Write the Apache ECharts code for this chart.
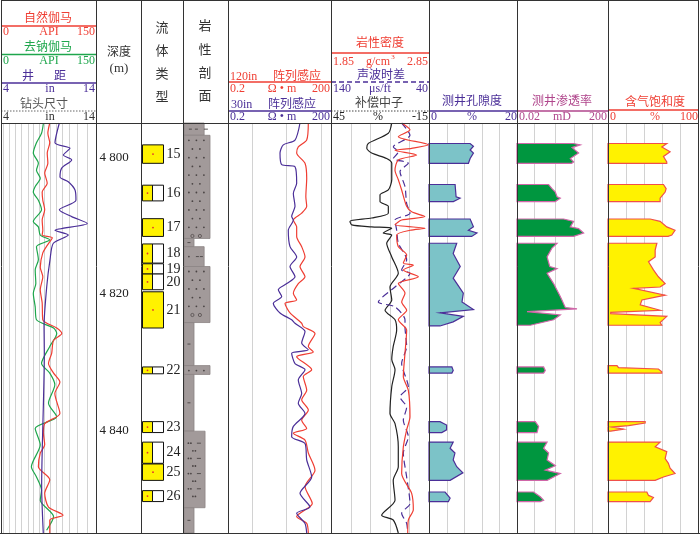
<!DOCTYPE html>
<html><head><meta charset="utf-8">
<script src="https://cdn.jsdelivr.net/npm/echarts@6/dist/echarts.min.js"></script>
<style>html,body{margin:0;padding:0;background:#fff}#c{width:700px;height:538px}</style>
</head><body><div id="c"></div>
<script>
// ---------------- DATA ----------------
const depthMin = 4795, depthMax = 4855;
const depthLabels = [4800, 4820, 4840];

// [value, depth]
const grNatural = [[77,4795.0],[74,4796.5],[77,4797.9],[73,4799.4],[74,4800.9],[69,4802.3],[73,4803.8],[65,4805.1],[66,4806.3],[69,4807.7],[65,4809.2],[66,4810.7],[65,4811.4],[81,4811.8],[73,4812.9],[66,4814.0],[62,4816.1],[66,4817.5],[62,4819.4],[65,4821.3],[66,4823.8],[88,4825.0],[96,4825.8],[83,4826.8],[80,4828.7],[75,4830.2],[83,4831.6],[93,4832.9],[85,4834.6],[93,4837.5],[69,4839.0],[67,4840.4],[69,4842.1],[62,4843.3],[59,4845.3],[77,4847.2],[69,4849.2],[75,4851.2],[98,4852.4],[77,4853.1],[77,4855.0]];
const grNoNa = [[67,4795.0],[64,4796.5],[56,4797.9],[51,4799.4],[59,4800.9],[56,4801.9],[62,4803.1],[54,4804.3],[51,4805.1],[59,4806.3],[64,4807.7],[51,4809.4],[59,4810.2],[62,4811.4],[77,4812.1],[56,4813.1],[59,4815.0],[54,4816.5],[55,4818.5],[51,4819.9],[54,4821.9],[56,4823.8],[83,4825.0],[88,4825.8],[77,4827.7],[64,4830.2],[77,4831.6],[85,4833.3],[75,4836.0],[88,4838.0],[54,4839.7],[62,4842.1],[48,4845.3],[56,4846.8],[64,4848.7],[62,4850.2],[83,4852.6],[72,4854.6]];
const caliper = [[10.14,4795.0],[9.68,4797.9],[11.26,4798.7],[10.56,4799.7],[11.44,4800.4],[10.39,4801.6],[10.21,4802.9],[11.08,4803.6],[11.79,4804.8],[11.89,4806.3],[10.14,4807.7],[11.44,4808.7],[13.08,4809.7],[9.68,4810.7],[11.08,4811.4],[9.51,4812.6],[9.16,4815.0],[8.81,4819.0],[8.53,4824.8],[8.56,4828.7],[8.28,4848.2],[8.45,4855.0]];

const res120 = [[43.7,4795.0],[39.2,4797.5],[22.3,4798.5],[20.0,4799.4],[35.0,4800.9],[39.2,4803.1],[37,4805.8],[39.2,4807.2],[28.0,4808.2],[16.0,4809.2],[20.0,4810.2],[20.0,4811.6],[28.0,4813.1],[35.0,4814.6],[25.0,4816.0],[35.0,4817.5],[22.3,4818.5],[16.0,4819.9],[20.0,4820.9],[9.14,4821.4],[12.8,4822.8],[28.0,4824.3],[31.2,4824.8],[68.4,4825.8],[43.7,4827.7],[61.0,4828.5],[20.0,4829.2],[54.8,4831.1],[31.2,4832.1],[39.2,4834.1],[28.0,4835.5],[43.7,4837.0],[28.0,4838.5],[39.2,4839.7],[16.0,4840.4],[35.0,4841.4],[43.7,4843.3],[68.4,4845.8],[35.0,4848.2],[57.0,4850.7],[20.0,4852.6],[39.2,4853.6],[43.7,4855.0]];
const res30 = [[25.0,4795.0],[17.9,4797.5],[8.16,4798.2],[6.54,4799.4],[7.33,4801.1],[17.9,4801.4],[20.0,4803.8],[16.0,4805.3],[17.9,4807.2],[14.3,4808.7],[16.0,4809.2],[11.4,4810.7],[12.8,4813.1],[20.0,4814.6],[12.8,4816.0],[17.9,4817.5],[10.3,4818.5],[5.83,4819.4],[7.33,4820.4],[4.17,4821.4],[6.54,4822.8],[14.3,4823.8],[17.9,4824.3],[35.0,4825.5],[28.0,4827.2],[43.7,4828.2],[14.3,4828.7],[17.9,4830.2],[35.0,4831.1],[22.3,4832.6],[28.0,4834.6],[22.3,4836.0],[35.0,4837.5],[16.0,4839.4],[14.3,4840.9],[35.0,4841.9],[39.2,4844.3],[54.8,4846.8],[25.0,4849.2],[48.9,4851.2],[20.0,4852.1],[35.0,4853.6],[39.2,4855.0]];

const density = [[2.571,4795.0],[2.656,4796.0],[2.537,4797.0],[2.843,4798.2],[2.673,4798.7],[2.503,4799.0],[2.724,4799.7],[2.537,4800.4],[2.503,4801.9],[2.537,4803.3],[2.571,4804.8],[2.622,4807.2],[2.673,4808.0],[2.809,4808.7],[2.571,4809.2],[2.503,4809.9],[2.809,4810.4],[2.656,4810.7],[2.520,4811.4],[2.537,4813.1],[2.622,4814.3],[2.588,4815.5],[2.690,4815.8],[2.588,4816.5],[2.741,4817.5],[2.537,4818.5],[2.605,4819.9],[2.571,4821.2],[2.622,4822.4],[2.537,4823.8],[2.622,4825.3],[2.605,4828.7],[2.588,4832.1],[2.639,4834.1],[2.656,4838.0],[2.622,4839.9],[2.588,4842.4],[2.571,4846.3],[2.673,4849.2],[2.690,4851.6],[2.639,4853.1],[2.633,4855.0]];
const sonic = [[67.9,4795.0],[59.4,4796.8],[76.4,4798.5],[71.3,4799.2],[76.4,4800.2],[61.1,4800.9],[69.6,4802.1],[64.5,4804.3],[62.8,4806.8],[59.4,4808.2],[74.7,4809.2],[73.0,4810.7],[71.3,4812.6],[62.8,4815.0],[67.9,4816.5],[59.4,4817.0],[74.7,4819.0],[91.7,4821.2],[74.7,4821.9],[64.5,4823.8],[64.5,4824.8],[62.8,4827.7],[67.9,4830.2],[61.1,4833.6],[69.6,4835.1],[62.8,4836.6],[66.2,4838.5],[61.1,4840.9],[66.2,4843.3],[62.8,4846.8],[59.4,4850.7],[67.9,4852.1],[62.8,4853.6],[61.7,4855.0]];
const neutron = [[7.8,4795.0],[9.9,4796.5],[22.2,4798.0],[23.1,4798.7],[20.1,4799.4],[10.9,4800.2],[7.8,4800.9],[7.8,4803.3],[9.9,4804.8],[15.0,4805.5],[15.0,4806.5],[9.9,4807.2],[9.9,4808.2],[20.1,4808.9],[33.4,4809.4],[32.3,4809.9],[20.1,4810.2],[7.8,4810.4],[13.0,4811.1],[7.8,4811.4],[10.9,4812.6],[7.8,4814.6],[3.8,4817.0],[8.9,4819.0],[7.8,4820.9],[11.9,4822.4],[5.8,4823.8],[4.8,4825.3],[6.9,4827.7],[7.8,4829.6],[5.8,4831.1],[7.8,4833.6],[8.9,4837.5],[5.8,4839.0],[3.8,4842.4],[3.8,4845.3],[6.9,4847.3],[5.8,4850.2],[14.0,4852.4],[6.9,4853.1],[3.8,4855.0]];

// interpreted zones: list of [value, depth] outlines
const porosityZones = [
  [[9.35,4798.0],[10.1,4798.4],[9.35,4798.95],[10.1,4799.4],[9.35,4800.2],[8.96,4800.9]],
  [[5.93,4804.0],[6.16,4805.8],[7.07,4806.0],[5.54,4806.5]],
  [[9.35,4809.05],[10.1,4810.2],[8.96,4810.7],[10.9,4811.1],[9.7,4811.6]],
  [[6.3,4812.6],[5.5,4814.1],[7.1,4816.0],[5.5,4817.7],[7.8,4819.9],[7.5,4821.2],[10.1,4822.3],[2.5,4822.8],[7.8,4823.3],[5.5,4824.1],[2.5,4824.7]],
  [[5.2,4830.7],[5.5,4831.2],[5.2,4831.6]],
  [[2.5,4838.7],[4.0,4839.2],[4.0,4839.9],[2.9,4840.3]],
  [[5.5,4841.7],[4.8,4842.6],[5.9,4843.3],[5.5,4844.3],[6.3,4845.3],[7.7,4846.2],[4.8,4847.3]],
  [[3.65,4849.0],[4.8,4849.9],[4.4,4850.4]]
];
const permZones = [
  [[6,4798.0],[12.1,4798.2],[5.23,4798.6],[10.2,4799.4],[4.4,4800.2],[6.15,4800.7],[5,4800.9]],
  [[0.49,4804.0],[0.69,4804.6],[0.97,4805.1],[1.15,4805.8],[1.6,4806.0],[0.97,4806.5]],
  [[2.23,4809.05],[6.15,4809.4],[4.4,4810.2],[10.2,4810.45],[16.9,4811.1],[6.15,4811.6]],
  [[1.15,4812.6],[0.69,4813.3],[0.42,4814.6],[0.55,4816.0],[1.15,4816.3],[0.42,4817.0],[0.81,4818.5],[1.6,4820.4],[2.66,4822.0],[8.7,4822.2],[0.055,4822.6],[1.6,4823.1],[0.81,4823.8],[0.077,4824.6]],
  [[0.295,4830.7],[0.35,4831.2],[0.295,4831.6]],
  [[0.127,4838.7],[0.178,4839.4],[0.151,4840.3]],
  [[0.42,4841.7],[0.295,4842.6],[0.49,4843.3],[0.42,4844.3],[0.97,4845.15],[0.35,4845.8],[1.6,4846.3],[0.42,4847.3]],
  [[0.107,4849.0],[0.211,4849.7],[0.295,4850.2],[0.211,4850.4]]
];
const satZones = [
  [[65.3,4798.0],[59.8,4798.5],[69.0,4799.2],[61.6,4799.9],[65.3,4800.7],[65.3,4800.9]],
  [[61.6,4804.0],[64.6,4804.6],[63.5,4805.1],[57.9,4806.0],[57.9,4806.5]],
  [[46.8,4809.05],[57.9,4809.4],[65.3,4810.2],[74.5,4810.7],[70.9,4811.4],[66.7,4811.6]],
  [[54.3,4812.6],[52.4,4813.6],[52.4,4814.6],[45,4815.3],[50.5,4816.5],[56,4817.5],[63.5,4818.5],[57.9,4819.0],[28.4,4819.2],[63.5,4820.2],[37.7,4820.9],[35.8,4821.6],[57.9,4822.4],[3,4822.7],[3,4822.9],[65.3,4823.3],[57.9,4824.2],[59.8,4824.6]],
  [[10,4830.5],[11.7,4830.8],[56,4831.0],[59.8,4831.4],[59.8,4831.6]],
  [[41.3,4838.7],[41.3,4838.9],[22.8,4839.3],[4.4,4839.5],[17.3,4839.8],[3,4840.1]],
  [[57.9,4841.7],[52.4,4842.4],[65.3,4843.1],[63.5,4844.1],[67.1,4844.8],[69.0,4845.5],[74.5,4846.3],[61.6,4846.8],[52.4,4847.3]],
  [[43.2,4849.0],[45,4849.5],[50.5,4849.8],[46.8,4850.4]]
];

// fluid layers: [top, bottom, label, full(1)/half(0)]
const fluidLayers = [[4798.2,4800.9,'15',1],[4804.1,4806.4,'16',0],[4809.0,4811.6,'17',1],[4812.7,4815.5,'18',0],[4815.6,4817.1,'19',0],[4817.1,4819.4,'20',0],[4819.7,4825.0,'21',1],[4830.7,4831.7,'22',0],[4838.7,4840.3,'23',0],[4841.7,4844.8,'24',0],[4844.9,4847.3,'25',1],[4848.8,4850.4,'26',0]];
// lithology: [top, bottom, grain-size width (0-1), type]
const lithology = [[4795,4796.8,0.47,'mud'],[4796.8,4811.9,0.6,'sand'],[4811.9,4813.1,0.245,'mud1'],[4813.1,4816.0,0.47,'silt'],[4816.0,4824.2,0.6,'sand'],[4824.2,4830.5,0.245,'mud1'],[4830.5,4831.8,0.6,'sand1'],[4831.8,4840.1,0.245,'mud1'],[4840.1,4851.3,0.49,'silt2'],[4851.3,4855,0.245,'mud1']];

// grid tick values per track
const grTicks = [2.7,12.6,22.1,31.6,42.2,51.0,60.0,68.4,77.4,86.8,96.3,106.9,120.5,136.3];
const resTicks = [1,10,100];
const densTicks = [2.05,2.25,2.45,2.65];
const porTicks = [4,8,12,16];
const permTicks = [0.115,0.97,6.6,40.8];
const satTicks = [20,40,60,80];

// ---------------- CHART ----------------
const RED='#ef3e33', GREEN='#1ea64c', PURPLE='#4b2f98', DARK='#3a3a3a', PINK='#b0468c', GRIDC='#d2d2d2';
const FONT='"Liberation Serif","Noto Sans CJK SC",serif';
const TOP=123, BOT=533;
const cols=[[1,95],[96,45],[141,42],[183,45],[228,103],[331,98],[429,88],[517,91],[608,90]];
const grids=cols.map(c=>({left:c[0],top:TOP,width:c[1],height:BOT-TOP,outerBoundsMode:'none',containLabel:false}));
function xa(g,o){return Object.assign({gridIndex:g,type:'value',show:false,splitLine:{show:false}},o);}
const xAxes=[
  xa(0,{min:0,max:150}),          //0 GR
  xa(0,{min:4,max:14}),           //1 caliper
  xa(1,{min:0,max:1}),            //2 depth
  xa(2,{min:0,max:1}),            //3 fluid
  xa(3,{min:0,max:1}),            //4 litho
  xa(4,{type:'log',logBase:10,min:0.2,max:200}), //5 resistivity
  xa(5,{min:1.85,max:2.85}),      //6 density
  xa(5,{min:40,max:140,inverse:true}),  //7 sonic
  xa(5,{min:-15,max:45,inverse:true}),  //8 neutron
  xa(6,{min:0,max:20}),           //9 porosity
  xa(7,{type:'log',logBase:10,min:0.02,max:200}), //10 perm
  xa(8,{min:0,max:100})           //11 saturation
];
const yAxes=cols.map((c,i)=>({gridIndex:i,type:'value',inverse:true,min:depthMin,max:depthMax,show:false,splitLine:{show:false}}));

function gridSeries(xi,yi,ticks){
  return {type:'custom',xAxisIndex:xi,yAxisIndex:yi,silent:true,z:1,data:ticks.map(v=>[v,depthMin]),encode:{x:0,y:1},
    renderItem:(p,api)=>{const a=api.coord([api.value(0),depthMin]),b=api.coord([api.value(0),depthMax]);
      const x=Math.round(a[0])+0.5;
      return {type:'line',shape:{x1:x,y1:a[1],x2:x,y2:b[1]},style:{stroke:GRIDC,lineWidth:1}};}};
}
function lineSeries(xi,yi,data,color,dash,w){
  return {type:'line',xAxisIndex:xi,yAxisIndex:yi,data:data,symbol:'none',smooth:0.25,z:5,clip:true,silent:true,
    lineStyle:{color:color,width:w||1.2,type:dash||'solid'}};
}
function zoneSeries(xi,yi,zones,base,fill,stroke){
  return {type:'custom',xAxisIndex:xi,yAxisIndex:yi,silent:true,z:3,data:zones.map(z=>[z[0][0],z[0][1]]),encode:{x:0,y:1},
    renderItem:(p,api)=>{const z=zones[p.dataIndex];const pts=[api.coord([base,z[0][1]])];
      z.forEach(q=>pts.push(api.coord(q)));pts.push(api.coord([base,z[z.length-1][1]]));
      return {type:'polygon',shape:{points:pts},style:{fill:fill,stroke:stroke,lineWidth:1.2}};}};
}

const series=[
  gridSeries(0,0,grTicks),
  gridSeries(5,4,resTicks),
  gridSeries(6,5,densTicks),
  gridSeries(9,6,porTicks),
  gridSeries(10,7,permTicks),
  gridSeries(11,8,satTicks),
  lineSeries(0,0,grNoNa,GREEN),
  lineSeries(0,0,grNatural,RED),
  lineSeries(1,0,caliper,PURPLE),
  lineSeries(5,4,res120,RED),
  lineSeries(5,4,res30,PURPLE),
  lineSeries(8,5,neutron,'#222'),
  lineSeries(7,5,sonic,PURPLE,[7,4]),
  lineSeries(6,5,density,RED),
  zoneSeries(9,6,porosityZones,0,'#7cc3c8',PURPLE),
  zoneSeries(10,7,permZones,0.02,'#00963f','#d066a8'),
  zoneSeries(11,8,satZones,0,'#fff200','#f0504a'),
  // depth labels
  {type:'custom',xAxisIndex:2,yAxisIndex:1,silent:true,z:6,data:depthLabels.map(d=>[0.4,d]),encode:{x:0,y:1},
    renderItem:(p,api)=>{const c=api.coord([api.value(0),api.value(1)]);const s=String(api.value(1));
      return {type:'text',x:c[0],y:c[1],style:{text:s.slice(0,1)+' '+s.slice(1),fill:'#222',font:'13px '+FONT,textAlign:'center',textVerticalAlign:'middle'}};}},
  // fluid layers
  {type:'custom',xAxisIndex:3,yAxisIndex:2,silent:true,z:6,data:fluidLayers.map(f=>[0.5,f[0]]),encode:{x:0,y:1},
    renderItem:(p,api)=>{const f=fluidLayers[p.dataIndex];
      const a=api.coord([0.017,f[0]]),b=api.coord([0.52,f[1]]),m=api.coord([0.255,f[0]]);
      const x0=Math.round(a[0])+0.5,x1=Math.round(b[0])+0.5,xm=Math.round(m[0])+0.5,y0=a[1],y1=b[1];
      const ch=[];
      if(f[3]===1){ch.push({type:'rect',shape:{x:x0,y:y0,width:x1-x0,height:y1-y0},style:{fill:'#fff200',stroke:'#111',lineWidth:1}});
        ch.push({type:'circle',shape:{cx:(x0+x1)/2,cy:(y0+y1)/2,r:0.9},style:{fill:'#e03030'}});}
      else{ch.push({type:'rect',shape:{x:x0,y:y0,width:xm-x0,height:y1-y0},style:{fill:'#fff200',stroke:'#111',lineWidth:1}});
        ch.push({type:'rect',shape:{x:xm,y:y0,width:x1-xm,height:y1-y0},style:{fill:'#fff',stroke:'#111',lineWidth:1}});
        ch.push({type:'circle',shape:{cx:(x0+xm)/2,cy:(y0+y1)/2,r:0.9},style:{fill:'#e03030'}});}
      ch.push({type:'text',x:x1+3,y:(y0+y1)/2,style:{text:f[2],fill:'#222',font:'14px '+FONT,textAlign:'left',textVerticalAlign:'middle'}});
      return {type:'group',children:ch};}},
  // lithology
  {type:'custom',xAxisIndex:4,yAxisIndex:3,silent:true,z:4,data:lithology.map(l=>[0.5,l[0]]),encode:{x:0,y:1},
    renderItem:(p,api)=>{const l=lithology[p.dataIndex];
      const a=api.coord([0.02,l[0]]),b=api.coord([l[2],l[1]]);
      const x0=a[0],x1=b[0],y0=a[1],y1=b[1];const ch=[];
      ch.push({type:'rect',shape:{x:x0,y:y0,width:x1-x0,height:y1-y0},style:{fill:'#a29a9a',stroke:'#8c8484',lineWidth:0.8}});
      const dot=(x,y)=>ch.push({type:'circle',shape:{cx:x,cy:y,r:0.9},style:{fill:'#4a4444'}});
      const ring=(x,y)=>ch.push({type:'circle',shape:{cx:x,cy:y,r:1.6},style:{fill:'none',stroke:'#4a4444',lineWidth:0.7}});
      const dash=(x,y,w)=>ch.push({type:'line',shape:{x1:x,y1:y,x2:x+w,y2:y},style:{stroke:'#4a4444',lineWidth:0.9}});
      const t=l[3];
      if(t==='sand'||t==='sand1'){
        let r=0;for(let y=y0+5;y<y1-2;y+=8.7,r++){
          const last=(y+8.7>=y1-2);
          for(let x=x0+5+(r%2?3.5:0);x<x1-3;x+=7.5){
            if(t==='sand'&&(last||(r%6===5&&x<x0+8)))ring(x,y);else dot(x,y);}
        }
      }else if(t==='mud'){const y=(y0+y1)/2;dash(x0+5,y,3);dash(x0+11,y,3);dash(x0+20,y,4);}
      else if(t==='mud1'){const y=(y0+y1)/2;dash(x0+(x1-x0)/2-1.5,y,3);}
      else if(t==='silt'){const y=(y0+y1)/2;dot(x0+5,y);dash(x0+12,y,3);dash(x0+16,y,3);}
      else if(t==='silt2'){let r=0;for(let y=y0+12;y<y1-6;y+=7.6,r++){
          if(r%2===0){dot(x0+4.5,y);dot(x0+7,y);dash(x0+13,y,4);}else{dot(x0+9,y);dot(x0+11.5,y);}}}
      return {type:'group',children:ch};}}
];

// ---------------- HEADER ----------------
const hdr=[];
function T(x,y,t,c,s,al){hdr.push({type:'text',x:x,y:y,z:100,silent:true,style:{text:t,fill:c,font:(s||12)+'px '+FONT,textAlign:al||'center',textVerticalAlign:'middle'}});}
function L(x1,y1,x2,y2,c,w,dash){hdr.push({type:'line',z:100,silent:true,shape:{x1:x1,y1:y1,x2:x2,y2:y2},style:{stroke:c,lineWidth:w||1,lineDash:dash||null}});}
function scale(l,r,y,a,m,b,c,mx){T(l+2,y,a,c,12,'left');T(mx!==undefined?mx:(l+r)/2,y,m,c,12,'center');T(r-1,y,b,c,12,'right');}
// track 1
T(48,19,'自然伽马',RED,12);L(1,26,96,26,RED,1.3);scale(1,96,32,'0','API','150',RED,49);
T(48,48,'去钠伽马',GREEN,12);L(1,54.5,96,54.5,GREEN,1.3);scale(1,96,61,'0','API','150',GREEN,49);
T(28,77,'井',PURPLE,12);T(60,77,'距',PURPLE,12);L(1,83,96,83,PURPLE,1.3);scale(1,96,89,'4','in','14',PURPLE,50);
T(44,105,'钻头尺寸','#555',12);L(1,111,96,111,'#666',1,[1.5,1.5]);scale(1,96,117,'4','in','14','#333',50);
// depth / fluid / lithology
T(119,53,'深度','#333',12);T(119,69,'(m)','#333',13);
['流','体','类','型'].forEach((t,i)=>T(162,29+i*22.7,t,'#333',13));
['岩','性','剖','面'].forEach((t,i)=>T(205,27+i*23.3,t,'#333',13));
// resistivity
T(230,77,'120in',RED,12,'left');T(297,77,'阵列感应',RED,12);L(228,82,331,82,RED,1.3);scale(228,331,89,'0.2','Ω • m','200',RED,282);
T(231,105,'30in',PURPLE,12,'left');T(292,105,'阵列感应',PURPLE,12);L(228,111,331,111,PURPLE,1.3);scale(228,331,117,'0.2','Ω • m','200',PURPLE,282);
// porosity logs
T(380,44,'岩性密度',RED,12);L(331,53,429,53,RED,1.3);
T(333,62,'1.85',RED,12,'left');T(378,62,'g/cm',RED,12,'center');T(393,57,'3',RED,7,'center');T(428,62,'2.85',RED,12,'right');
T(381,76,'声波时差',PURPLE,12);L(331,82,429,82,PURPLE,1.3,[5,3]);scale(331,429,89,'140','μs/ft','40',PURPLE,380);
T(379,104,'补偿中子','#444',12);L(331,111,429,111,'#444',1,[1.5,1.5]);scale(331,429,117,'45','%','-15','#222',378);
// porosity, permeability, saturation
T(472,102,'测井孔隙度',PURPLE,12);L(429,111,517,111,PURPLE,1.3);scale(429,518,117,'0','%','20',PURPLE,472);
T(562,102,'测井渗透率',PINK,12);L(517,111,608,111,PINK,1.3);scale(517,608,117,'0.02','mD','200',PINK,562);
T(655,103,'含气饱和度',RED,12);L(608,110,698,110,RED,1.3);scale(608,699,117,'0','%','100',RED,655);
// frame
[1,96,141,183,228,331,429,517,608,698].forEach(x=>L(x+0.5,0,x+0.5,BOT,'#333',1));
L(1,0.5,699,0.5,'#333',1);L(1,TOP+0.5,699,TOP+0.5,'#333',1);L(0,BOT+0.5,700,BOT+0.5,'#333',1.2);

const chart=echarts.init(document.getElementById('c'));
chart.setOption({animation:false,backgroundColor:'#fff',grid:grids,xAxis:xAxes,yAxis:yAxes,series:series,graphic:{elements:hdr}});
</script></body></html>
